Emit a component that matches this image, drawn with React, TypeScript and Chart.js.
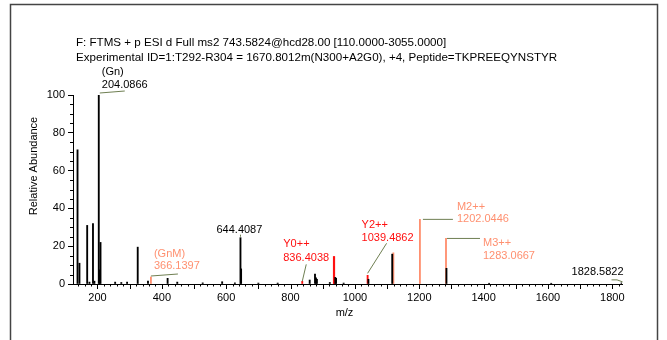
import { useEffect, useRef } from "react";
import { Chart, registerables } from "chart.js";

Chart.register(...registerables);

// ---------- data ----------
const titleLines = [
  "F: FTMS + p ESI d Full ms2 743.5824@hcd28.00 [110.0000-3055.0000]",
  "Experimental ID=1:T292-R304 = 1670.8012m(N300+A2G0), +4, Peptide=TKPREEQYNSTYR",
];
const xAxisTitle = "m/z";
const yAxisTitle = "Relative Abundance";
const xRange = [124, 1830];
const yRange = [0, 100];
const xTickLabels = [200, 400, 600, 800, 1000, 1200, 1400, 1600, 1800];

const blackMz = [
  138.05, 144.07, 168.07, 175.1, 186.08, 190.5, 204.0866, 206.5, 209.5, 255.0, 274.1,
  292.1, 325.1, 357.0, 418.0, 448.0, 527.0, 587.5, 627.0, 644.4087, 646.4, 700.0,
  760.0, 859.5, 876.0, 879.0, 882.0, 922.0, 939.0, 941.5, 965.0, 1042.0, 1116.0,
  1284.5, 1417.0, 1610.0, 1828.5822,
];
const blackInt = [
  71, 11, 31, 1, 32, 1.5, 100, 7.5, 22, 1, 0.8,
  1, 19.5, 1.5, 3, 1, 0.6, 1.2, 0.6, 24.5, 8, 0.5,
  0.5, 2.1, 5.3, 3.3, 2.5, 0.8, 3.5, 3, 0.5, 2.5, 15.8,
  8.3, 0.4, 0.4, 0.6,
];
const redMz = [836.4038, 934.6, 935.6, 1039.4862];
const redInt = [1.4, 14.5, 14.5, 4.6];
const orangeMz = [366.1397, 1119.5, 1202.0446, 1283.0667];
const orangeInt = [3.7, 16.5, 34.2, 24.1];

const annMz = [204.0866, 366.1397, 644.4087, 836.4038, 1039.4862, 1202.0446, 1283.0667, 1828.5822];
const annText = [
  ["(Gn)", "204.0866"],
  ["(GnM)", "366.1397"],
  ["644.4087"],
  ["Y0++", "836.4038"],
  ["Y2++", "1039.4862"],
  ["M2++", "1202.0446"],
  ["M3++", "1283.0667"],
  ["1828.5822"],
];

// ---------- styles ----------
const BLACK = "#000000";
const RED = "#ff1010";
const ORANGE = "#ff9070";
const OLIVE = "#6f7f52";
const FONT = "'Liberation Sans', Arial, sans-serif";

type AnnStyle = {
  color: string;
  dx: number;
  dy: number[];
  leader: number[][];
  curve?: boolean;
};
const annStyle: AnnStyle[] = [
  { color: BLACK, dx: 3, dy: [-23, -10], leader: [[1, -2], [26, -4]] },
  { color: ORANGE, dx: 3, dy: [-23, -11], leader: [[0, -1], [27, -3]] },
  { color: BLACK, dx: -24, dy: [-8], leader: [[0, -1], [0, -3]] },
  { color: RED, dx: -19, dy: [-37, -23], leader: [[0, 0], [4, -17]] },
  { color: RED, dx: -6, dy: [-50, -37], leader: [[0, -2], [19, -32]] },
  { color: ORANGE, dx: 37, dy: [-12, 0], leader: [[3, 0], [33, 0]] },
  { color: ORANGE, dx: 37, dy: [5, 18], leader: [[1, 0], [34, 0]] },
  { color: BLACK, dx: -50, dy: [-11], leader: [[-10, -3], [1, -1]], curve: true },
];

function toPoints(xs: number[], ys: number[]) {
  return xs.map((x, i) => ({ x, y: ys[i] }));
}

function peakIntensity(mz: number): number {
  const all = [
    ...toPoints(blackMz, blackInt),
    ...toPoints(redMz, redInt),
    ...toPoints(orangeMz, orangeInt),
  ];
  let best = all[0];
  for (const p of all) {
    const d = Math.abs(p.x - mz);
    const bd = Math.abs(best.x - mz);
    if (d < bd || (d === bd && p.y > best.y)) best = p;
  }
  return best.y;
}

const decorPlugin = {
  id: "decor",
  beforeDraw(chart: any) {
    const ctx = chart.ctx;
    ctx.save();
    ctx.fillStyle = "#ffffff";
    ctx.fillRect(0, 0, chart.width, chart.height);
    ctx.strokeStyle = "#444444";
    ctx.lineWidth = 1.5;
    ctx.strokeRect(10.5, 4.5, 647, 400);
    ctx.restore();
  },
  afterDraw(chart: any) {
    const ctx = chart.ctx;
    const xs = chart.scales.x;
    const ys = chart.scales.y;
    const area = chart.chartArea;
    ctx.save();
    // titles
    ctx.fillStyle = BLACK;
    ctx.font = `11.6px ${FONT}`;
    ctx.textAlign = "left";
    ctx.textBaseline = "middle";
    ctx.fillText(titleLines[0], 76, 43);
    ctx.fillText(titleLines[1], 76, 58);
    ctx.font = `11px ${FONT}`;
    ctx.textAlign = "center";
    ctx.fillText(xAxisTitle, (area.left + area.right) / 2 - 3, 313);
    ctx.save();
    ctx.translate(34, 166);
    ctx.rotate(-Math.PI / 2);
    ctx.fillText(yAxisTitle, 0, 0);
    ctx.restore();

    // x axis ticks and labels, y minor ticks
    ctx.strokeStyle = BLACK;
    ctx.lineWidth = 1;
    ctx.beginPath();
    for (let v = Math.ceil(xRange[0] / 20) * 20; v <= xRange[1]; v += 20) {
      const px = Math.round(xs.getPixelForValue(v)) + 0.5;
      const len = v % 100 === 0 ? 5 : 2.5;
      ctx.moveTo(px, area.bottom);
      ctx.lineTo(px, area.bottom + len);
    }
    for (let v = yRange[0]; v <= yRange[1]; v += 5) {
      if (v % 20 === 0) continue;
      const py = Math.round(ys.getPixelForValue(v)) + 0.5;
      ctx.moveTo(area.left, py);
      ctx.lineTo(area.left - 3, py);
    }
    ctx.stroke();
    ctx.fillStyle = BLACK;
    ctx.textAlign = "center";
    ctx.textBaseline = "middle";
    xTickLabels.forEach((v) => {
      ctx.fillText(String(v), xs.getPixelForValue(v), 298);
    });

    // annotations
    annMz.forEach((mz, i) => {
      const st = annStyle[i];
      const px = xs.getPixelForValue(mz);
      const py = ys.getPixelForValue(peakIntensity(mz));
      ctx.strokeStyle = OLIVE;
      ctx.lineWidth = 1;
      ctx.beginPath();
      const [a, b] = st.leader;
      ctx.moveTo(px + a[0], py + a[1]);
      if (st.curve) {
        ctx.quadraticCurveTo(px + (a[0] + b[0]) / 2, py + a[1] - 1, px + b[0], py + b[1]);
      } else {
        ctx.lineTo(px + b[0], py + b[1]);
      }
      ctx.stroke();
      ctx.fillStyle = st.color;
      ctx.textAlign = "left";
      ctx.textBaseline = "middle";
      annText[i].forEach((t, j) => {
        ctx.fillText(t, px + st.dx, py + st.dy[j]);
      });
    });
    ctx.restore();
  },
};

export default function App() {
  const ref = useRef<HTMLCanvasElement | null>(null);
  useEffect(() => {
    if (!ref.current) return;
    Chart.defaults.font.family = FONT;
    Chart.defaults.font.size = 11;
    Chart.defaults.color = BLACK;
    const mk = (label: string, xsArr: number[], ysArr: number[], color: string, thick: number) => ({
      label,
      data: toPoints(xsArr, ysArr),
      backgroundColor: color,
      borderWidth: 0,
      barThickness: thick,
      grouped: false,
    });
    const chart = new Chart(ref.current, {
      type: "bar",
      data: {
        datasets: [
          mk("peaks", blackMz, blackInt, BLACK, 1.2),
          mk("red", redMz, redInt, RED, 1.2),
          mk("orange", orangeMz, orangeInt, ORANGE, 1.2),
        ],
      },
      options: {
        responsive: false,
        animation: false,
        layout: { padding: { top: 95, right: 45, left: 0, bottom: 0 } },
        plugins: { legend: { display: false }, tooltip: { enabled: false }, title: { display: false } },
        scales: {
          x: {
            type: "linear",
            offset: false,
            min: xRange[0],
            max: xRange[1],
            afterFit: (s: any) => {
              s.height = 56;
            },
            grid: { display: false },
            border: { display: true, color: BLACK, width: 1 },
            ticks: { display: false },
          },
          y: {
            min: yRange[0],
            max: yRange[1],
            afterFit: (s: any) => {
              s.width = 73;
            },
            grid: { display: true, drawOnChartArea: false, drawTicks: true, tickLength: 5, color: BLACK },
            border: { display: true, color: BLACK, width: 1 },
            ticks: { stepSize: 20, padding: 3, color: BLACK },
          },
        },
      },
      plugins: [decorPlugin],
    } as any);
    return () => chart.destroy();
  }, []);
  return (
    <canvas
      ref={ref}
      width={667}
      height={340}
      style={{ position: "absolute", left: 0, top: 0, display: "block" }}
    />
  );
}
